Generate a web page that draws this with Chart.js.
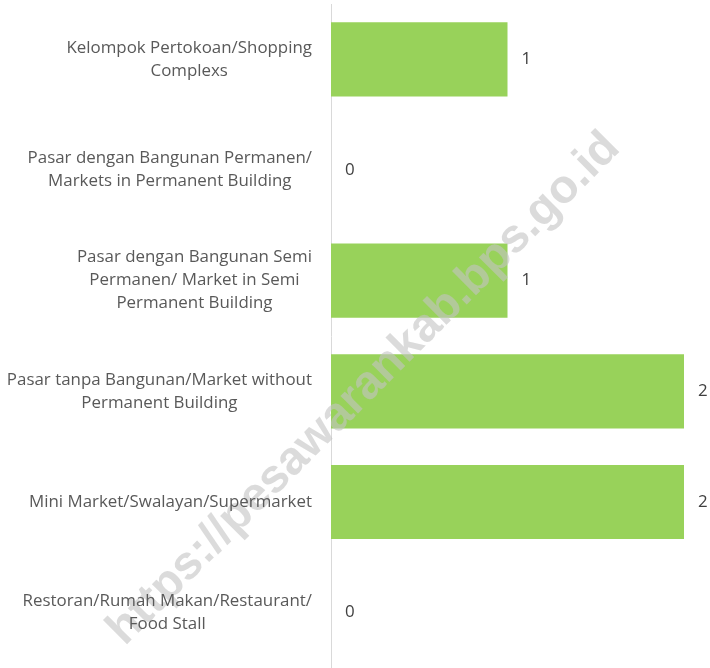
<!DOCTYPE html>
<html><head><meta charset="utf-8">
<script src="https://cdn.jsdelivr.net/npm/chart.js@4"></script>
<style>html,body{margin:0;padding:0;background:#fff}</style>
</head><body>
<canvas id="c" width="710" height="668"></canvas>
<script>
const categories = [
  ["Kelompok Pertokoan/Shopping", "Complexs"],
  ["Pasar dengan Bangunan Permanen/", "Markets in Permanent Building"],
  ["Pasar dengan Bangunan Semi", "Permanen/ Market in Semi", "Permanent Building"],
  ["Pasar tanpa Bangunan/Market without", "Permanent Building"],
  ["Mini Market/Swalayan/Supermarket"],
  ["Restoran/Rumah Makan/Restaurant/", "Food Stall"]
];
const values = [1, 0, 1, 2, 2, 0];
const xMax = 2;
const watermark = "https://pesawarankab.bps.go.id";

const FONT = "'Open Sans', sans-serif";

const labelPlugin = {
  id: 'labels',
  afterDatasetsDraw(chart) {
    const ctx = chart.ctx;
    ctx.save();
    ctx.translate(364, 389);
    ctx.rotate(-45 * Math.PI / 180);
    ctx.font = "bold 47px 'Liberation Sans', Arial, sans-serif";
    ctx.fillStyle = 'rgba(195,195,195,0.6)';
    ctx.textAlign = 'center';
    ctx.textBaseline = 'middle';
    ctx.fillText(watermark, 0, 0);
    ctx.restore();
  },
  afterDraw(chart) {
    const ctx = chart.ctx;
    const ys = chart.scales.y;
    const ca = chart.chartArea;
    ctx.save();
    ctx.font = "16.9px " + FONT;
    ctx.fillStyle = '#595959';
    ctx.textAlign = 'center';
    ctx.textBaseline = 'middle';
    const lh = 23;
    categories.forEach((lines, i) => {
      const yc = ys.getPixelForTick(i);
      const widest = Math.max(...lines.map(l => ctx.measureText(l).width));
      const cx = ca.left - 19 - widest / 2;
      const y0 = yc - (lines.length - 1) * lh / 2;
      lines.forEach((l, j) => ctx.fillText(l, cx, y0 + j * lh));
    });
    ctx.fillStyle = '#404040';
    ctx.textAlign = 'left';
    const meta = chart.getDatasetMeta(0);
    meta.data.forEach((bar, i) => {
      ctx.fillText(String(values[i]), bar.x + 14, bar.y);
    });
    ctx.restore();
  }
};

new Chart(document.getElementById('c'), {
  type: 'bar',
  data: {
    labels: categories,
    datasets: [{
      data: values,
      backgroundColor: '#98D25A',
      borderWidth: 0,
      barPercentage: 0.67,
      categoryPercentage: 1
    }]
  },
  options: {
    indexAxis: 'y',
    responsive: false,
    animation: false,
    layout: { padding: { top: 4, right: 26, bottom: 0, left: 0 } },
    plugins: { legend: { display: false }, tooltip: { enabled: false } },
    scales: {
      x: { min: 0, max: xMax, display: false },
      y: {
        grid: { display: false, drawTicks: false },
        border: { display: true, color: '#D9D9D9', width: 1 },
        ticks: { display: false },
        afterFit(scale) { scale.width = 331; }
      }
    }
  },
  plugins: [labelPlugin]
});
</script>
</body></html>
